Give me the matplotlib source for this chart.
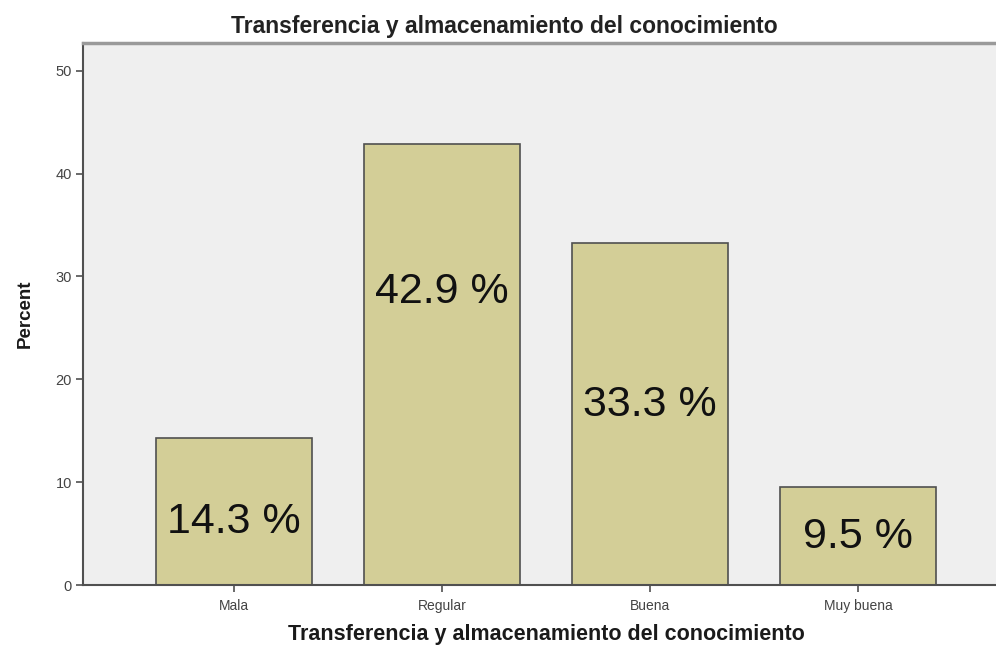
import matplotlib
matplotlib.use('Agg')
import matplotlib.pyplot as plt

# categorías y porcentajes
categorias = ['Mala', 'Regular', 'Buena', 'Muy buena']
porcentajes = [14.3, 42.9, 33.3, 9.5]
etiquetas = ['14.3 %', '42.9 %', '33.3 %', '9.5 %']
# altura (en %) donde va cada etiqueta dentro de la barra
etiqueta_y = [6.1, 28.5, 17.5, 4.7]
y_ticks = [0, 10, 20, 30, 40, 50]

plt.rcParams['font.family'] = ['Liberation Sans', 'DejaVu Sans']

fig = plt.figure(figsize=(9.96, 6.46), dpi=100)
ax = fig.add_axes([0.0833, 0.0944, 0.930, 0.839])
ax.set_facecolor('#efefef')

x = list(range(len(categorias)))
ax.bar(x, porcentajes, width=0.75, color='#d3ce97', edgecolor='#505050', linewidth=1.2, zorder=2)

for xi, yi, txt in zip(x, etiqueta_y, etiquetas):
    ax.text(xi, yi, txt, ha='center', va='center', fontsize=31, color='#111111', zorder=3)

ax.set_xlim(-0.726, 3.726)
ax.set_ylim(0, 52.7)
ax.set_xticks(x)
ax.set_xticklabels(categorias, fontsize=10, color='#444444')
ax.set_yticks(y_ticks)
ax.set_yticklabels([str(v) for v in y_ticks], fontsize=10.5, color='#444444')
ax.tick_params(axis='both', direction='out', length=5, width=1.2, color='#505050', pad=3)
ax.tick_params(axis='x', pad=5)

for s in ['left', 'bottom']:
    ax.spines[s].set_color('#505050')
    ax.spines[s].set_linewidth(1.5)
ax.spines['top'].set_color('#9a9a9a')
ax.spines['top'].set_linewidth(2.5)
ax.spines['right'].set_visible(False)

ax.set_title('Transferencia y almacenamiento del conocimiento', fontsize=16.5,
             fontweight='bold', color='#222222', pad=7, x=0.455)
ax.set_xlabel('Transferencia y almacenamiento del conocimiento', fontsize=15.5,
              fontweight='bold', color='#1a1a1a', labelpad=8)
ax.set_ylabel('Percent', fontsize=13.5, fontweight='bold', color='#1a1a1a', labelpad=16)

fig.savefig('out.png', dpi=100)
